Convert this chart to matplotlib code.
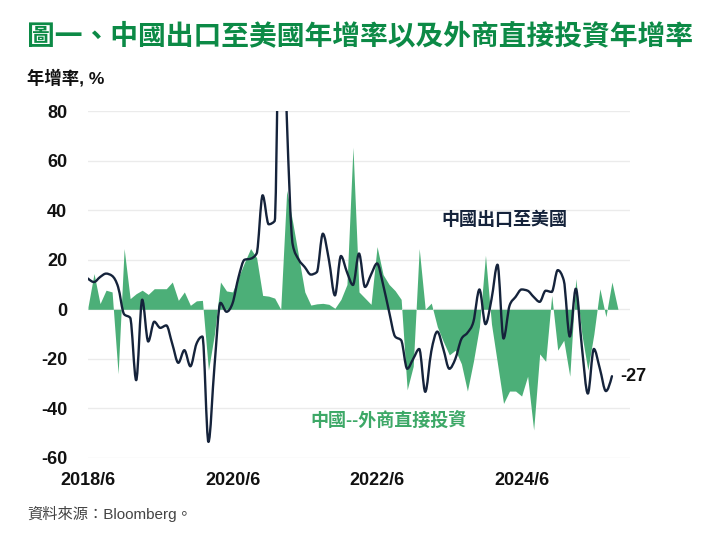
import matplotlib
matplotlib.use("Agg")
import matplotlib.pyplot as plt
from matplotlib.path import Path
from matplotlib.patches import PathPatch
import numpy as np

plt.rcParams['font.family'] = ['Liberation Sans', 'Noto Sans CJK TC', 'DejaVu Sans']

# Monthly data starting 2018/6
exports_us = [12.4, 11, 13, 14.4, 13.5, 9, -2, -3.4, -28.6, 3.9,
              -13, -5, -7.5, -6.5, -14, -21.6, -16.5, -23, -14, -11,
              -53.5, -23, 2.6, -1, 2.4, 13, 20, 20.4, 22.5, 46,
              34.3, 35.6, 160, 78, 26, 20, 17, 14, 15, 30.5,
              20, 5.6, 21.5, 15, 9.8, 22.5, 9, 14, 18.5, 10,
              -1, -11, -12.5, -24, -20, -16, -33.3, -17, -9, -16,
              -24, -20, -12, -9.5, -5, 8, -6, 4, 18, -11.8,
              1.5, 5, 8, 7.5, 5, 3, 7.5, 7, 15.8, 11.7,
              -11, 8.3, -15, -34, -16, -24, -33, -27]
fdi = [1, 14.4, 2.3, 7.7, 7, -26, 24.5, 4.3, 6.3, 7.7,
       6, 8.3, 8.3, 8.3, 11, 3.6, 7, 1.6, 3.4, 3.6,
       -24.6, -10, 11, 7.4, 7, 13, 19, 24.5, 20.8, 5.6,
       5.3, 4.5, 0, 48, 35, 21, 7, 1.7, 2.2, 2.4,
       2, 0.4, 4, 10, 65.4, 7, 4.5, 2, 25.3, 14,
       10, 7.5, 4, -32.5, -23, 24.5, 0, 2.5, -7, -13,
       -18.4, -16.5, -22, -33, -21, -7, 21.8, -6, -22, -38,
       -33, -33, -35, -27, -48.7, -18, -21, 5.6, -16.5, -12.5,
       -27, 12.4, -10, -24.5, -10, 8.3, -3, 11, 0]
xtick_pos = [0, 24, 48, 72]
xtick_labels = ["2018/6", "2020/6", "2022/6", "2024/6"]
yticks = [-60, -40, -20, 0, 20, 40, 60, 80]

title = "圖一、中國出口至美國年增率以及外商直接投資年增率"
ylabel = "年增率, %"
source = "資料來源：Bloomberg。"
label_exp = "中國出口至美國"
label_fdi = "中國--外商直接投資"

GREEN_FILL = "#4caf78"
GREEN_TITLE = "#0c8a46"
GREEN_LABEL = "#3da867"
NAVY = "#15233b"


def monotone_path(x, y):
    """Smooth monotone-x cubic curve through the data points (rendering style)."""
    x = np.asarray(x, float)
    y = np.asarray(y, float)
    n = len(x)
    h = np.diff(x)
    s = np.diff(y) / h
    t = np.zeros(n)
    for i in range(1, n - 1):
        s0, s1 = s[i - 1], s[i]
        if s0 * s1 <= 0:
            t[i] = 0.0
        else:
            p = (s0 * h[i] + s1 * h[i - 1]) / (h[i - 1] + h[i])
            t[i] = (np.sign(s0) + np.sign(s1)) * min(abs(s0), abs(s1), 0.5 * abs(p))
    t[0] = (3 * s[0] - t[1]) / 2
    t[-1] = (3 * s[-1] - t[-2]) / 2
    verts = [(x[0], y[0])]
    codes = [Path.MOVETO]
    for i in range(n - 1):
        d = h[i] / 3
        verts += [(x[i] + d, y[i] + t[i] * d),
                  (x[i + 1] - d, y[i + 1] - t[i + 1] * d),
                  (x[i + 1], y[i + 1])]
        codes += [Path.CURVE4] * 3
    return Path(verts, codes)


fig = plt.figure(figsize=(7.2, 5.49), dpi=100)
ax = fig.add_axes([88/720, 1-458/549, (630-88)/720, (458-111)/549])

x_e = np.arange(len(exports_us))
x_f = np.arange(len(fdi))

ax.fill_between(x_f, 0, fdi, color=GREEN_FILL, linewidth=0, zorder=2)
line = PathPatch(monotone_path(x_e, exports_us), facecolor='none', edgecolor=NAVY,
                 lw=1.7, zorder=3, joinstyle='round', capstyle='round')
ax.add_patch(line)

ax.set_xlim(0, 90)
ax.set_ylim(-60, 80)
ax.set_yticks(yticks)
ax.set_yticklabels([str(v) for v in yticks], fontsize=13, fontweight='bold', color='#111111')
ax.set_xticks(xtick_pos)
ax.set_xticklabels(xtick_labels, fontsize=13, fontweight='bold', color='#111111')
ax.tick_params(axis='both', length=0)
ax.tick_params(axis='y', pad=15)
ax.tick_params(axis='x', pad=10)
ax.grid(axis='y', color='#ebebeb', lw=1.0, zorder=0)
ax.set_axisbelow(True)
for s in ax.spines.values():
    s.set_visible(False)

fig.text(27/720, 1-37/549, title, fontsize=20, fontweight='bold', color=GREEN_TITLE,
         va='center', ha='left')
fig.text(27/720, 1-78/549, ylabel, fontsize=12.5, fontweight='bold', color='#111111',
         va='center', ha='left')
fig.text(27/720, 1-514/549, source, fontsize=11, color='#444444', va='center', ha='left')

ax.text(0.7675, 0.686, label_exp, transform=ax.transAxes, fontsize=13, fontweight='bold',
        color=NAVY, ha='center', va='center')
ax.text(0.555, 0.1066, label_fdi, transform=ax.transAxes, fontsize=13, fontweight='bold',
        color=GREEN_LABEL, ha='center', va='center')
ax.annotate(f"{exports_us[-1]:.0f}", xy=(x_e[-1], exports_us[-1]), xytext=(6, 0),
            textcoords='offset points', fontsize=13, fontweight='bold', color='#111111',
            va='center', ha='left', annotation_clip=False)

fig.savefig("out.png", dpi=100)
